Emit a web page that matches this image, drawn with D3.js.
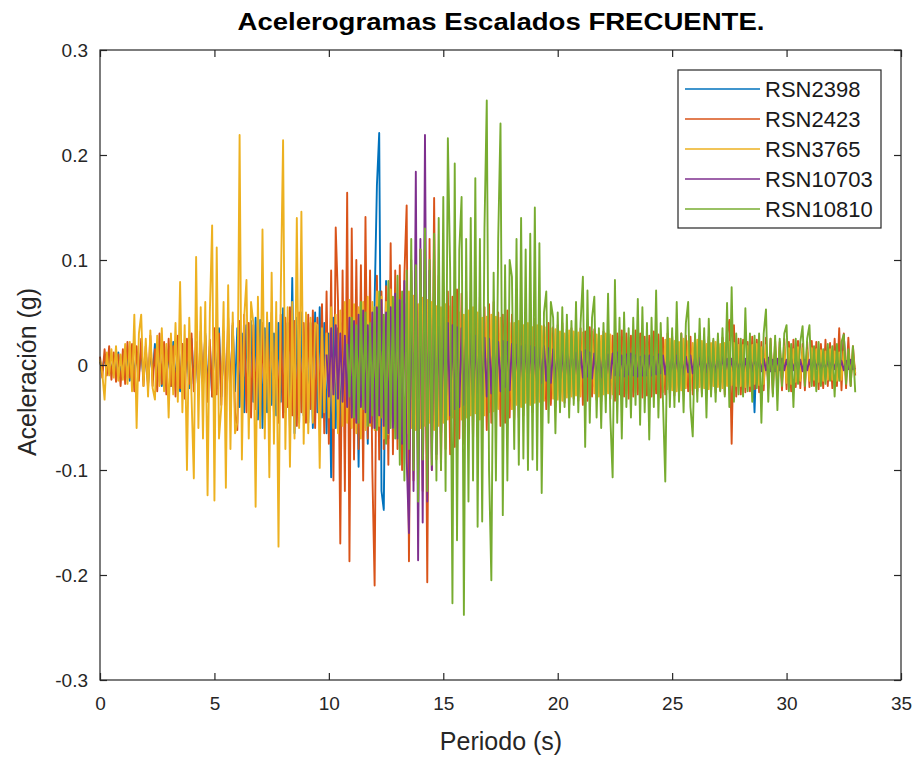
<!DOCTYPE html>
<html>
<head>
<meta charset="utf-8">
<script src="https://cdn.jsdelivr.net/npm/d3@7"></script>
<style>
  html, body { margin: 0; padding: 0; background: #fff; }
  svg { display: block; font-family: "Liberation Sans", Arial, sans-serif; }
</style>
</head>
<body>
<div id="chart"></div>
<script>
// acceleration samples in milli-g, one row per second, dt = 0.1 s
const DT = 0.1;

const names = ['RSN2398', 'RSN2423', 'RSN3765', 'RSN10703', 'RSN10810'];
const colors = ['#0072BD', '#D95319', '#EDB120', '#7E2F8E', '#77AC30'];
const starts = [0, 0, 0, 9.9, 10.8];

const rsn2398 = [
  3,-5,8,-6,10,-8,6,-10,12,-7,
  10,-12,8,-15,14,-10,12,-9,15,-14,
  12,-18,15,-10,20,-16,12,-20,18,-12,
  15,-20,22,-18,14,-25,20,-15,18,-22,
  25,-18,20,-28,22,-20,30,-25,18,-30,
  28,-22,35,-30,25,-35,30,-28,38,-25,
  35,-40,30,-45,38,-30,42,-35,45,-52,
  43,-60,35,-45,40,-38,30,-48,40,-35,
  54,-45,40,-60,83,-65,45,-55,50,-48,
  45,-55,40,-60,50,-45,55,-50,40,-65,
  30,-107,45,-60,35,-70,40,-55,36,-65,
  40,-50,36,-97,45,-60,50,-75,55,-60,
  60,171,221,-120,-138,80,-70,60,-55,50,
  -60,55,-50,45,-55,40,-45,50,-40,45,
  -42,38,-45,40,-35,42,-38,35,-40,36,
  -38,32,-40,35,-30,38,-34,30,-36,32,
  -30,34,-28,32,-35,30,-26,33,-30,28,
  -32,28,-30,26,-28,30,-25,28,-27,24,
  -26,25,-28,22,-25,27,-22,24,-26,22,
  -24,22,-25,20,-23,24,-20,22,-24,20,
  -22,20,-24,18,-20,22,-18,20,-22,18,
  -20,22,-18,20,-21,18,-20,19,-17,20,
  -18,20,-22,17,-19,21,-16,18,-20,17,
  -19,17,-20,18,-16,19,-18,16,-19,17,
  -16,18,-17,15,-18,16,-15,17,-16,15,
  -17,15,-16,18,-15,16,-17,14,-15,16,
  -15,17,-14,16,-16,14,-15,15,-13,16,
  -14,15,-16,13,-15,14,-13,15,-14,12,
  -15,13,-14,16,-18,14,-45,20,-16,14,
  -14,12,-15,13,-12,14,-13,12,-14,11,
  -12,13,-11,14,-12,11,-13,12,-10,12,
  -11,12,-13,10,-12,11,-10,12,-11,10,
  -12,10,-11,13,-10,29,-12,10,-11,9,
  -8
];

const rsn2423 = [
  8,-12,15,-10,18,-14,12,-16,10,-20,
  15,-18,22,-12,20,-25,18,-15,25,-20,
  18,-22,28,-20,15,-25,30,-18,22,-28,
  25,-20,18,-30,28,-22,20,-32,25,-18,
  30,-25,22,-28,32,-20,28,-35,24,-30,
  35,-28,30,-38,32,-40,45,-35,40,-45,
  -62,42,-38,48,-45,40,-50,38,-42,45,
  -48,40,-52,44,-38,50,-45,42,-55,48,
  -50,45,-40,55,-48,42,-58,50,-45,40,
  -55,48,-42,52,-60,45,-50,58,-65,70,
  -75,90,-110,131,60,-170,90,-120,164,-187,
  130,-90,100,-80,95,-110,141,-70,90,-100,
  -210,85,-90,70,-80,75,-95,116,-85,90,
  -80,95,-100,85,152,-187,90,-110,100,-95,
  110,-120,95,-207,120,-100,159,-90,85,-100,
  75,-80,70,-85,65,-78,72,-70,68,-75,
  70,-65,62,-72,58,-68,65,-60,55,-62,
  58,-55,60,-52,50,-58,48,-55,52,-50,
  48,-52,45,-50,42,-48,46,-44,40,-45,
  44,-40,42,-45,38,-42,40,-38,36,-40,
  38,-35,40,-36,34,-38,35,-32,36,-34,
  35,-38,32,-34,36,-30,34,-33,30,-35,
  32,-30,35,-32,28,-34,30,-28,33,-30,
  30,-32,28,-30,33,-28,30,-31,27,-29,
  28,-30,32,-27,29,-31,26,-28,30,-27,
  27,-29,25,-28,30,-26,28,-25,27,-28,
  26,-25,28,-27,24,-26,27,-25,23,-26,
  25,-24,26,-28,30,43,-75,38,-30,25,
  -28,24,-26,22,-25,27,-23,24,-26,22,
  -24,26,-22,25,-27,23,-25,22,-24,25,
  -23,22,-25,24,-21,23,-22,20,-24,22,
  -21,23,-20,22,-23,20,-22,24,-20,21,
  -22,25,-20,35,-24,30,-22,26,-20,18,
  -10
];

const rsn3765 = [
  5,-8,-33,12,-10,15,-12,18,-15,10,
  -14,20,-18,22,-25,48,-60,30,48,-20,
  25,-30,33,-22,-33,28,-20,35,-25,20,
  -50,30,-28,40,-35,79,-45,38,-100,45,
  -30,-108,103,-60,55,-70,60,-124,50,133,
  -129,112,-70,-40,60,-117,76,-80,50,-65,
  -55,219,-90,45,81,-70,60,40,-135,65,
  -60,129,-70,50,-107,88,-75,60,-173,70,
  214,-80,55,-97,60,-70,140,-60,146,-75,
  50,-65,45,-55,40,38,-98,35,-45,30,
  -50,55,-60,48,-65,52,-58,60,-55,62,
  -60,58,-65,55,-70,60,-62,65,-58,60,
  -62,70,-58,65,-70,60,-66,72,-60,64,
  -68,62,-72,58,-65,70,-60,66,-62,58,
  -60,64,-58,62,-55,60,-62,56,-58,55,
  -55,58,-52,56,-50,54,-56,50,-52,48,
  -50,52,-48,55,-46,50,-52,45,-48,46,
  -45,48,-44,46,-42,45,-40,44,-42,40,
  -42,40,-38,42,-40,38,-36,40,-38,36,
  -36,38,-35,37,-34,36,-33,35,-32,34,
  -33,32,-34,30,-31,33,-30,32,-29,31,
  -30,31,-28,30,-29,32,-27,29,-30,28,
  -28,30,-27,29,-28,26,-29,27,-26,28,
  -27,26,-28,25,-26,27,-25,26,-27,24,
  -25,26,-24,27,-25,23,-26,24,-23,25,
  -24,23,-25,22,-24,25,-22,23,-24,21,
  -22,24,-21,23,-22,20,-23,21,-20,22,
  -21,20,-22,21,-20,22,-19,21,-20,19,
  -20,19,-21,18,-20,19,-18,20,-19,17,
  -18,19,-17,18,-19,16,-18,17,-16,18,
  -17,16,-18,15,-16,17,-15,16,-17,14,
  -15,16,-14,15,-16,14,-15,13,-14,15,
  -14,13,-15,12,-14,13,-12,14,-13,11,
  -8
];

// starts at 9.9 s
const rsn10703 = [
  10,
  -30,35,-28,38,-32,30,-35,28,-40,45,
  -50,42,-55,48,-40,52,-45,38,-55,50,
  -60,55,-48,62,-58,50,-65,55,-60,68,
  -70,62,-75,80,-90,-160,100,-120,184,-186,
  120,-150,219,-130,90,-100,70,-85,60,-70,
  45,-50,40,-48,38,-42,36,-40,35,-38,
  32,-35,30,-34,28,-32,30,-28,26,-30,
  25,-27,24,-26,22,-25,23,-21,22,-24,
  20,-22,19,-21,18,-20,19,-17,18,-19,
  17,-18,16,-17,18,-15,16,-17,15,-16,
  14,-15,13,-16,14,-12,15,-13,12,-14,
  13,-12,14,-11,12,-13,11,-12,10,-12,
  11,-12,10,-13,11,-10,12,-10,9,-11,
  10,-9,11,-10,9,-11,8,-10,9,-10,
  9,-10,8,-9,10,-8,9,-9,8,-9,
  8,-9,9,-8,7,-9,8,-7,9,-8,
  7,-8,7,-8,8,-7,8,-7,6,-7,
  7,-6,8,-7,6,-7,6,-7,7,-6,
  6,-7,6,-6,7,-6,7,-5,6,-6,
  6,-5,7,-6,5,-6,6,-5,6,-5,
  5,-5,6,-5,6,-5,5,-6,5,-5,
  5,-5,6,-4,5,-5,4,-5,5,-4,
  5,-4,5,-4,4,-5,4,-4,5,-4,
  -3
];

// starts at 10.8 s
const rsn10810 = [
  20,-30,
  45,-50,38,-55,60,-42,50,-58,40,-48,
  55,-62,70,-50,48,-75,80,-60,65,-70,
  85,-95,70,-110,90,-80,120,-100,95,-130,
  110,-90,130,-120,100,-95,125,-110,140,-100,
  160,-120,216,90,-227,192,-167,110,160,-238,
  120,-130,140,-110,178,-154,120,-149,130,252,
  -100,-205,88,-110,120,230,-143,95,-110,100,
  84,-80,120,-95,140,-89,110,-100,125,-90,
  150,-100,116,-122,50,70,-55,60,45,-65,
  50,-45,55,-40,48,-50,42,-38,60,-45,
  40,84,-78,71,-55,45,65,-50,35,-60,
  40,-45,68,-50,-107,81,-55,45,-70,50,
  -40,35,-50,45,-38,63,-57,55,-45,40,
  -71,45,-40,71,-50,40,-35,-111,45,-40,
  35,-40,60,-35,30,-45,40,60,-40,-68,
  30,-35,44,-30,35,-50,44,-30,25,-35,
  30,-25,35,-30,59,-40,74,-35,30,-28,
  25,-30,54,-25,30,-35,28,-22,30,-55,
  30,53,-35,25,-30,28,-43,25,-20,30,
  38,-25,20,-40,25,-18,22,37,-20,25,
  38,-20,18,-25,22,-20,15,-18,20,-15,
  18,-30,20,-15,22,29,-18,15,-20,18,
  -26
];

const xTicks = [0, 5, 10, 15, 20, 25, 30, 35];
const yTicks = [-0.3, -0.2, -0.1, 0, 0.1, 0.2, 0.3];
const yTickLabels = ['-0.3', '-0.2', '-0.1', '0', '0.1', '0.2', '0.3'];

const width = 918;
const height = 758;
const margin = { top: 50, right: 17, bottom: 78, left: 100 };
const font = '"Liberation Sans", Arial, sans-serif';

const series = [rsn2398, rsn2423, rsn3765, rsn10703, rsn10810].map((vals, i) => ({
  name: names[i],
  color: colors[i],
  points: vals.map((v, k) => ({ t: starts[i] + k * DT, a: v / 1000 }))
}));

const svg = d3.select('#chart')
  .append('svg')
  .attr('width', width)
  .attr('height', height);

const x = d3.scaleLinear().domain([0, 35]).range([margin.left, width - margin.right]);
const y = d3.scaleLinear().domain([-0.3, 0.3]).range([height - margin.bottom, margin.top]);

const line = d3.line().x(d => x(d.t)).y(d => y(d.a));

svg.append('g')
  .selectAll('path')
  .data(series)
  .join('path')
  .attr('fill', 'none')
  .attr('stroke', d => d.color)
  .attr('stroke-width', 1.9)
  .attr('stroke-linejoin', 'round')
  .attr('d', d => line(d.points));

// axes with inward ticks on all four sides (box on)
const tick = 7;
const axes = [
  { axis: d3.axisBottom(x).tickValues(xTicks).tickSize(-tick).tickPadding(17), at: `translate(0,${y(-0.3)})` },
  { axis: d3.axisTop(x).tickValues(xTicks).tickSize(-tick).tickFormat(''), at: `translate(0,${y(0.3)})` },
  { axis: d3.axisLeft(y).tickValues(yTicks).tickSize(-tick).tickPadding(12)
      .tickFormat((d, i) => yTickLabels[i]), at: `translate(${x(0)},0)` },
  { axis: d3.axisRight(y).tickValues(yTicks).tickSize(-tick).tickFormat(''), at: `translate(${x(35)},0)` }
];

axes.forEach(a => {
  const g = svg.append('g').attr('transform', a.at).call(a.axis);
  g.select('.domain').remove();
  g.selectAll('line').attr('stroke', '#262626').attr('stroke-width', 1.2);
  g.selectAll('text')
    .attr('fill', '#262626')
    .style('font-family', font)
    .style('font-size', '19px');
});

svg.append('rect')
  .attr('x', x(0))
  .attr('y', y(0.3))
  .attr('width', x(35) - x(0))
  .attr('height', y(-0.3) - y(0.3))
  .attr('fill', 'none')
  .attr('stroke', '#262626')
  .attr('stroke-width', 1.2);

svg.append('text')
  .attr('x', 501)
  .attr('y', 30)
  .attr('text-anchor', 'middle')
  .attr('textLength', 527)
  .attr('lengthAdjust', 'spacingAndGlyphs')
  .style('font-family', font)
  .style('font-weight', 'bold')
  .style('font-size', '23px')
  .attr('fill', '#000')
  .text('Acelerogramas  Escalados FRECUENTE.');

svg.append('text')
  .attr('x', 501)
  .attr('y', 750)
  .attr('text-anchor', 'middle')
  .style('font-family', font)
  .style('font-size', '25px')
  .attr('fill', '#262626')
  .text('Periodo (s)');

svg.append('text')
  .attr('transform', `translate(36,372) rotate(-90)`)
  .attr('text-anchor', 'middle')
  .style('font-family', font)
  .style('font-size', '25px')
  .attr('fill', '#262626')
  .text('Aceleración (g)');

// legend
const legend = svg.append('g').attr('transform', 'translate(678,70)');
legend.append('rect')
  .attr('width', 203)
  .attr('height', 158)
  .attr('fill', '#fff')
  .attr('stroke', '#262626')
  .attr('stroke-width', 1.2);

const item = legend.selectAll('g.item')
  .data(series)
  .join('g')
  .attr('class', 'item')
  .attr('transform', (d, i) => `translate(0,${19 + i * 30})`);

item.append('line')
  .attr('x1', 7)
  .attr('x2', 82)
  .attr('stroke', d => d.color)
  .attr('stroke-width', 1.6);

item.append('text')
  .attr('x', 87)
  .attr('y', 8)
  .style('font-family', font)
  .style('font-size', '22px')
  .attr('fill', '#1a1a1a')
  .text(d => d.name);
</script>
</body>
</html>
